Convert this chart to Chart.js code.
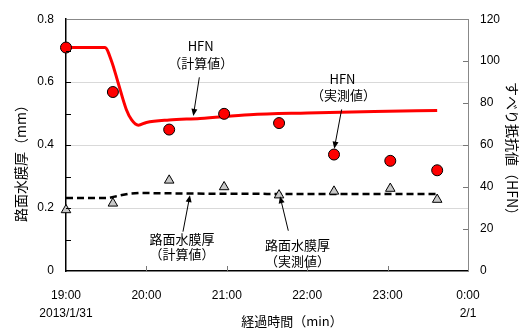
<!DOCTYPE html>
<html>
<head>
<meta charset="utf-8">
<script src="https://cdn.jsdelivr.net/npm/chart.js@4.4.1/dist/chart.umd.min.js"></script>
<style>
  html, body { margin: 0; padding: 0; background: #fff; }
  #wrap { width: 523px; height: 329px; }
</style>
</head>
<body>
<div id="wrap"><canvas id="chart" width="523" height="329"></canvas></div>
<script>
// Time axis in minutes after 19:00 (2013/1/31)
const xTickLabels = [['19:00', '2013/1/31'], '20:00', '21:00', '22:00', '23:00', ['0:00', '2/1']];

// Measured values (same sampling times for both series)
const sampleMinutes = [0, 35, 77, 118, 159, 200, 242, 277];
const hfnMeasured = [106.5, 85.3, 67.4, 74.9, 70.5, 55.5, 52.5, 48.0];
const filmMeasured = [0.194, 0.215, 0.288, 0.267, 0.241, 0.253, 0.262, 0.227];

// Calculated HFN (red line)
const hfnCalcMinutes = [0, 29, 34, 39, 45, 49, 54, 60, 77, 100, 137, 180, 230, 277];
const hfnCalc = [106.5, 106.5, 100, 89.5, 77, 72, 69.5, 70.8, 72, 72.7, 74.5, 75.3, 76, 76.5];

// Calculated water film thickness (black dashed line)
const filmCalcMinutes = [0, 32, 37, 46, 55, 90, 150, 220, 277];
const filmCalc = [0.232, 0.232, 0.237, 0.245, 0.248, 0.246, 0.245, 0.245, 0.245];

const numFont = "'Liberation Sans', Arial, sans-serif";
const jpFont = "'Noto Sans CJK JP', 'Liberation Sans', sans-serif";

function toPoints(xs, ys) {
  return xs.map((x, i) => ({ x: x, y: ys[i] }));
}

// Callouts, placed in data units: [minutes, value on the given axis]
const callouts = [
  { axis: 'yHfn', texts: [['HFN', 100.5, 107], ['（計算値）', 100.5, 99.2]], from: [99.5, 92.3], to: [95, 73.9] },
  { axis: 'yHfn', texts: [['HFN', 206.3, 91.5], ['（実測値）', 207, 83.9]], from: [205.7, 77.0], to: [200.2, 58.3] },
  { axis: 'yFilm', texts: [['路面水膜厚', 86.6, 0.103], ['（計算値）', 86.6, 0.055]], from: [87.3, 0.125], to: [92.5, 0.241] },
  { axis: 'yFilm', texts: [['路面水膜厚', 172.8, 0.081], ['（実測値）', 172.8, 0.031]], from: [165.9, 0.128], to: [159.7, 0.2375] }
];

function drawArrow(ctx, x1, y1, x2, y2) {
  const ang = Math.atan2(y2 - y1, x2 - x1);
  const len = 7, half = 3;
  ctx.beginPath();
  ctx.moveTo(x1, y1);
  ctx.lineTo(x2 - Math.cos(ang) * len * 0.8, y2 - Math.sin(ang) * len * 0.8);
  ctx.stroke();
  ctx.beginPath();
  ctx.moveTo(x2, y2);
  ctx.lineTo(x2 - Math.cos(ang) * len - Math.sin(ang) * half, y2 - Math.sin(ang) * len + Math.cos(ang) * half);
  ctx.lineTo(x2 - Math.cos(ang) * len + Math.sin(ang) * half, y2 - Math.sin(ang) * len - Math.cos(ang) * half);
  ctx.closePath();
  ctx.fill();
}

// Inward tick marks, axis titles and callouts
const decorations = {
  id: 'decorations',
  afterDraw(chart) {
    const ctx = chart.ctx;
    const area = chart.chartArea;
    const sx = chart.scales.x, sf = chart.scales.yFilm, sh = chart.scales.yHfn;
    ctx.save();

    // tick marks pointing into the plot
    ctx.lineWidth = 1;
    ctx.strokeStyle = '#000';
    sf.ticks.forEach(t => {
      if (t.value <= 0 || t.value >= 0.8) return;
      const y = Math.round(sf.getPixelForValue(t.value)) + 0.5;
      ctx.beginPath(); ctx.moveTo(area.left, y); ctx.lineTo(area.left + 5, y); ctx.stroke();
    });
    ctx.strokeStyle = '#777';
    sh.ticks.forEach(t => {
      if (t.value <= 0 || t.value >= 120) return;
      const y = Math.round(sh.getPixelForValue(t.value)) + 0.5;
      ctx.beginPath(); ctx.moveTo(area.right - 5, y); ctx.lineTo(area.right, y); ctx.stroke();
    });
    sx.ticks.forEach(t => {
      if (t.value <= 0 || t.value >= 300) return;
      const x = Math.round(sx.getPixelForValue(t.value)) + 0.5;
      ctx.beginPath(); ctx.moveTo(x, area.bottom - 5); ctx.lineTo(x, area.bottom); ctx.stroke();
    });

    // axis titles
    ctx.fillStyle = '#000';
    ctx.textAlign = 'center';
    ctx.textBaseline = 'middle';
    ctx.font = '14px ' + jpFont;
    ctx.save();
    ctx.translate(21, 160);
    ctx.rotate(-Math.PI / 2);
    ctx.fillText('路面水膜厚（mm）', 0, 0);
    ctx.restore();
    ctx.save();
    ctx.translate(512, 152);
    ctx.rotate(Math.PI / 2);
    ctx.fillText('すべり抵抗値（HFN）', 0, 0);
    ctx.restore();
    ctx.font = '13px ' + jpFont;
    ctx.fillText('経過時間（min）', 292, 321);

    // callouts
    ctx.font = '13px ' + jpFont;
    ctx.strokeStyle = '#000';
    ctx.fillStyle = '#000';
    callouts.forEach(c => {
      const sy = chart.scales[c.axis];
      c.texts.forEach(([txt, tx, ty]) => {
        ctx.fillText(txt, sx.getPixelForValue(tx), sy.getPixelForValue(ty));
      });
      drawArrow(ctx,
        sx.getPixelForValue(c.from[0]), sy.getPixelForValue(c.from[1]),
        sx.getPixelForValue(c.to[0]), sy.getPixelForValue(c.to[1]));
    });
    ctx.restore();
  }
};

const ctx = document.getElementById('chart').getContext('2d');
const chart = new Chart(ctx, {
  type: 'line',
  data: {
    datasets: [
      {
        label: 'HFN（実測値）',
        data: toPoints(sampleMinutes, hfnMeasured),
        yAxisID: 'yHfn',
        showLine: false,
        pointStyle: 'circle',
        pointRadius: 5.5,
        pointBackgroundColor: '#ff0000',
        pointBorderColor: '#000',
        pointBorderWidth: 1,
        clip: false,
        order: 0
      },
      {
        label: '路面水膜厚（実測値）',
        data: toPoints(sampleMinutes, filmMeasured),
        yAxisID: 'yFilm',
        showLine: false,
        pointStyle: 'triangle',
        pointRadius: 5.5,
        pointBackgroundColor: '#c8c8c8',
        pointBorderColor: '#000',
        pointBorderWidth: 1,
        clip: false,
        order: 1
      },
      {
        label: 'HFN（計算値）',
        data: toPoints(hfnCalcMinutes, hfnCalc),
        yAxisID: 'yHfn',
        borderColor: '#ff0000',
        borderWidth: 3,
        pointRadius: 0,
        cubicInterpolationMode: 'monotone',
        order: 2
      },
      {
        label: '路面水膜厚（計算値）',
        data: toPoints(filmCalcMinutes, filmCalc),
        yAxisID: 'yFilm',
        borderColor: '#000',
        borderWidth: 2.5,
        borderDash: [7, 4],
        pointRadius: 0,
        order: 3
      }
    ]
  },
  options: {
    responsive: false,
    animation: false,
    devicePixelRatio: 1,
    layout: { padding: { top: 15, left: 0, right: 0, bottom: 0 } },
    plugins: {
      legend: { display: false },
      tooltip: { enabled: false }
    },
    scales: {
      x: {
        type: 'linear',
        min: 0,
        max: 300,
        afterFit: s => { s.height = 58; },
        ticks: {
          stepSize: 60,
          padding: 15,
          color: '#000',
          font: { family: numFont, size: 12, lineHeight: 1.55 },
          callback: (v, i) => xTickLabels[i]
        },
        grid: { display: false, drawTicks: false },
        border: { display: true, color: '#000', width: 1.5 }
      },
      yFilm: {
        type: 'linear',
        position: 'left',
        min: 0,
        max: 0.8,
        afterFit: s => { s.width = 66; },
        ticks: {
          stepSize: 0.1,
          padding: 12,
          color: '#000',
          font: { family: numFont, size: 12 },
          callback: v => {
            const k = Math.round(v * 10);
            if (k % 2 !== 0) return '';
            return k === 0 ? '0' : (k / 10).toFixed(1);
          }
        },
        grid: {
          drawTicks: false,
          color: c => {
            const k = Math.round(c.tick.value * 10);
            if (k === 8) return '#888';
            return (k % 2 === 0 && k > 0) ? '#d9d9d9' : 'rgba(0,0,0,0)';
          }
        },
        border: { display: true, color: '#000', width: 1.5 }
      },
      yHfn: {
        type: 'linear',
        position: 'right',
        min: 0,
        max: 120,
        afterFit: s => { s.width = 55; },
        ticks: {
          stepSize: 20,
          padding: 12,
          color: '#000',
          font: { family: numFont, size: 12 }
        },
        grid: { display: false, drawTicks: false },
        border: { display: true, color: '#888', width: 1 }
      }
    }
  },
  plugins: [decorations]
});
</script>
</body>
</html>
